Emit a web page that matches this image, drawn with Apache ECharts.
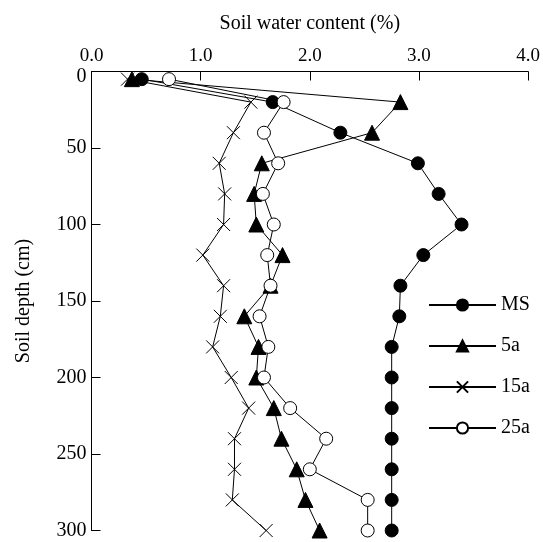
<!DOCTYPE html>
<html>
<head>
<meta charset="utf-8">
<script src="https://cdn.jsdelivr.net/npm/echarts@6/dist/echarts.min.js"></script>
<style>html,body{margin:0;padding:0;background:#fff}#c{width:543px;height:542px}</style>
</head>
<body>
<div id="c"></div>
<script>
const depths = [5, 20, 40, 60, 80, 100, 120, 140, 160, 180, 200, 220, 240, 260, 280, 300];
const MS  = [0.46, 1.66, 2.28, 2.99, 3.18, 3.39, 3.04, 2.83, 2.82, 2.75, 2.75, 2.75, 2.75, 2.75, 2.75, 2.75];
const a5  = [0.37, 2.83, 2.57, 1.56, 1.49, 1.51, 1.75, 1.64, 1.40, 1.53, 1.51, 1.67, 1.74, 1.88, 1.96, 2.09];
const a15 = [0.33, 1.46, 1.30, 1.17, 1.22, 1.21, 1.02, 1.21, 1.18, 1.11, 1.28, 1.44, 1.31, 1.31, 1.29, 1.60];
const a25 = [0.71, 1.76, 1.58, 1.71, 1.57, 1.67, 1.61, 1.64, 1.54, 1.62, 1.58, 1.82, 2.15, 2.00, 2.53, 2.53];
const seriesNames = ['MS', '5a', '15a', '25a'];
const xTicks = [0, 1, 2, 3, 4];
const yTicks = [0, 50, 100, 150, 200, 250, 300];

const FONT = 'Liberation Serif';
const pair = arr => arr.map((v, i) => [v, depths[i]]);
const crossPath = 'path://M0,0L10,10M10,0L0,10';

function mk(name, data, symbol, size, fill) {
  return {
    name, type: 'line', data: pair(data),
    symbol, symbolSize: size,
    lineStyle: { color: '#000', width: 1 },
    itemStyle: { color: fill, borderColor: '#000', borderWidth: 1 },
    emphasis: { disabled: true },
    animation: false
  };
}

const chart = echarts.init(document.getElementById('c'));
chart.setOption({
  animation: false,
  backgroundColor: '#fff',
  textStyle: { fontFamily: FONT, color: '#000' },
  grid: { left: 91.5, top: 71.5, right: 14.5, bottom: 11.5 },
  xAxis: {
    type: 'value', position: 'top', min: xTicks[0], max: xTicks[xTicks.length - 1], interval: 1,
    name: 'Soil water content (%)', nameLocation: 'middle', nameGap: 38,
    nameTextStyle: { fontFamily: FONT, fontSize: 20, color: '#000' },
    axisLine: { show: true, lineStyle: { color: '#000', width: 1 } },
    axisTick: { show: true, inside: true, length: 9, lineStyle: { color: '#000' } },
    axisLabel: { fontFamily: FONT, fontSize: 19, color: '#000', margin: 6, formatter: v => v.toFixed(1) },
    splitLine: { show: false }
  },
  yAxis: {
    type: 'value', inverse: true, min: yTicks[0], max: yTicks[yTicks.length - 1], interval: 50,
    name: 'Soil depth (cm)', nameLocation: 'middle', nameGap: 58, nameRotate: 90,
    nameTextStyle: { fontFamily: FONT, fontSize: 20, color: '#000' },
    axisLine: { show: true, lineStyle: { color: '#000', width: 1 } },
    axisTick: { show: true, inside: true, length: 9, lineStyle: { color: '#000' } },
    axisLabel: {
      fontFamily: FONT, fontSize: 20, color: '#000', margin: 5,
      formatter: v => v === 0 ? '{z|0}' : String(v),
      rich: { z: { fontFamily: FONT, fontSize: 20, color: '#000', padding: [10, 0, 0, 0] } }
    },
    splitLine: { show: false }
  },
  legend: {
    orient: 'vertical', left: 423, top: 290,
    itemWidth: 67, itemHeight: 14, itemGap: 21,
    textStyle: { fontFamily: FONT, fontSize: 20, color: '#000', padding: [0, 0, 0, 0] },
    data: seriesNames
  },
  series: [
    mk(seriesNames[0], MS, 'circle', 13, '#000'),
    mk(seriesNames[1], a5, 'triangle', 15, '#000'),
    mk(seriesNames[2], a15, crossPath, 13, 'none'),
    mk(seriesNames[3], a25, 'circle', 13, '#fff')
  ]
});
</script>
</body>
</html>
